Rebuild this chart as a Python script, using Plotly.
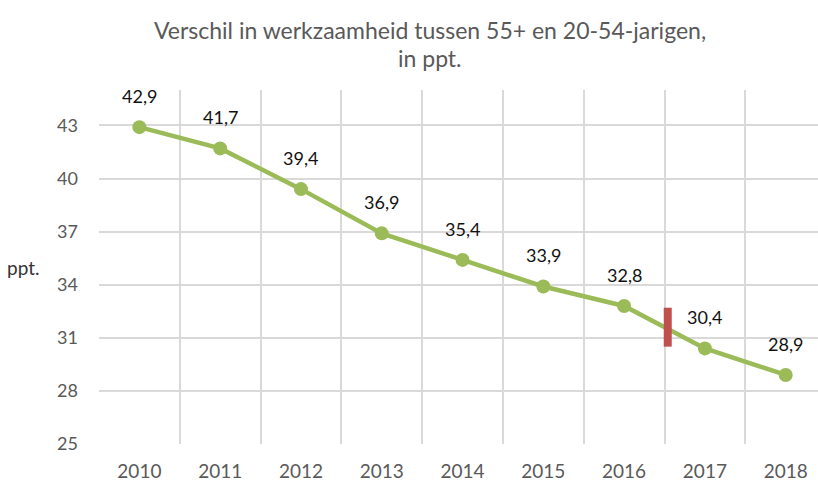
import plotly.graph_objects as go

# Gap in employment rate between 55+ and 20-54 year olds, percentage points
years = ["2010", "2011", "2012", "2013", "2014", "2015", "2016", "2017", "2018"]
gap_ppt = [42.9, 41.7, 39.4, 36.9, 35.4, 33.9, 32.8, 30.4, 28.9]
y_ticks = [25, 28, 31, 34, 37, 40, 43]

title_lines = ["Verschil in werkzaamheid tussen 55+ en 20-54-jarigen,", "in ppt."]

# Series break (methodology change) between 2016 and 2017
break_after = "2016"
break_half_height = 1.1

LINE_GREEN = "#9BBB59"
BREAK_RED = "#C0504D"
GRID = "#D9D9D9"
TEXT_GREY = "#595959"
FONT = "Lato"

xs = list(range(len(years)))
bi = years.index(break_after)
break_x = bi + 0.54
break_mid = (gap_ppt[bi] + gap_ppt[bi + 1]) / 2

fig = go.Figure()

fig.add_trace(go.Scatter(
    x=xs, y=gap_ppt,
    mode="lines+markers",
    line=dict(color=LINE_GREEN, width=4.5),
    marker=dict(color=LINE_GREEN, size=14),
    hoverinfo="skip",
    showlegend=False,
))

fig.add_trace(go.Scatter(
    x=[break_x, break_x],
    y=[break_mid - break_half_height, break_mid + break_half_height],
    mode="lines",
    line=dict(color=BREAK_RED, width=8),
    hoverinfo="skip",
    showlegend=False,
))

for x, v in zip(xs, gap_ppt):
    fig.add_annotation(
        x=x, y=v, text=f"{v:.1f}".replace(".", ","),
        showarrow=False, yshift=31,
        font=dict(family=FONT, size=18, color="#111111"),
    )

# Two-line chart title
for line, ypos in zip(title_lines, [1.1695, 1.0904]):
    fig.add_annotation(
        text=line, xref="paper", yref="paper", x=0.460, y=ypos,
        xanchor="center", yanchor="middle", showarrow=False,
        font=dict(family=FONT, size=23, color=TEXT_GREY),
    )

fig.add_annotation(
    text="ppt.", xref="paper", yref="paper", x=-0.08, y=0.5,
    xanchor="right", yanchor="middle", showarrow=False,
    font=dict(family=FONT, size=19, color="#333333"),
)

fig.update_layout(
    width=818, height=483,
    margin=dict(l=99, r=0, t=90, b=39),
    paper_bgcolor="white", plot_bgcolor="white",
    xaxis=dict(
        range=[-0.5, len(years) - 0.6],
        tickvals=xs, ticktext=years,
        showgrid=False, zeroline=False, showline=False,
        ticks="", ticklabelstandoff=14,
        tickfont=dict(family=FONT, size=19, color=TEXT_GREY),
        minor=dict(
            tickvals=[i - 0.5 for i in range(len(years) + 1)],
            showgrid=True, gridcolor=GRID, gridwidth=1.5, ticks="",
        ),
    ),
    yaxis=dict(
        range=[25, 45],
        tickvals=y_ticks,
        showgrid=True, gridcolor=GRID, gridwidth=1.5,
        zeroline=False, showline=False, ticks="",
        ticklabelstandoff=20,
        tickfont=dict(family=FONT, size=18, color=TEXT_GREY),
    ),
)

fig.write_html("out.html")
